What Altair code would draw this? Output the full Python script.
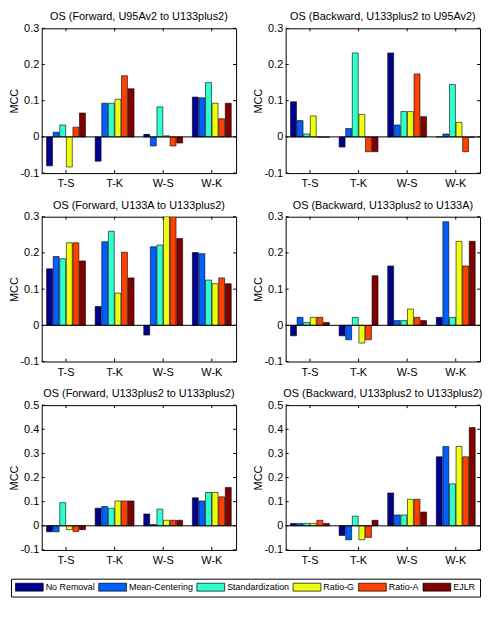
import altair as alt
import pandas as pd

FONT = "Liberation Sans"

categories = ["T-S", "T-K", "W-S", "W-K"]
methods = ["No Removal", "Mean-Centering", "Standardization", "Ratio-G", "Ratio-A", "EJLR"]
colors = ["#00008F", "#0060FF", "#30FFCF", "#EFFF10", "#FF4000", "#800000"]

titles = [
    "OS (Forward, U95Av2 to U133plus2)",
    "OS (Backward, U133plus2 to U95Av2)",
    "OS (Forward, U133A to U133plus2)",
    "OS (Backward, U133plus2 to U133A)",
    "OS (Forward, U133plus2 to U133plus2)",
    "OS (Backward, U133plus2 to U133plus2)",
]

# values per panel: one list per category (T-S, T-K, W-S, W-K), in method order
fwd_u95 = [
    [-0.080, 0.013, 0.033, -0.083, 0.027, 0.066],
    [-0.067, 0.093, 0.093, 0.104, 0.169, 0.133],
    [0.007, -0.025, 0.083, 0.003, -0.025, -0.017],
    [0.110, 0.108, 0.150, 0.093, 0.050, 0.093],
]
bwd_u95 = [
    [0.097, 0.045, 0.008, 0.058, -0.001, -0.001],
    [-0.028, 0.023, 0.232, 0.062, -0.041, -0.041],
    [0.232, 0.033, 0.070, 0.070, 0.174, 0.056],
    [0.000, 0.008, 0.145, 0.040, -0.041, -0.001],
]
fwd_u133a = [
    [0.156, 0.190, 0.184, 0.228, 0.228, 0.178],
    [0.052, 0.231, 0.260, 0.089, 0.202, 0.131],
    [-0.027, 0.217, 0.222, 0.300, 0.300, 0.240],
    [0.201, 0.198, 0.125, 0.115, 0.131, 0.115],
]
bwd_u133a = [
    [-0.029, 0.022, 0.008, 0.022, 0.022, 0.008],
    [-0.029, -0.040, 0.022, -0.049, -0.040, 0.137],
    [0.164, 0.013, 0.013, 0.045, 0.022, 0.013],
    [0.022, 0.286, 0.022, 0.232, 0.164, 0.232],
]
fwd_plus2 = [
    [-0.025, -0.025, 0.096, -0.016, -0.024, -0.016],
    [0.073, 0.080, 0.073, 0.103, 0.103, 0.103],
    [0.049, 0.005, 0.069, 0.023, 0.023, 0.023],
    [0.116, 0.103, 0.138, 0.138, 0.120, 0.159],
]
bwd_plus2 = [
    [0.010, 0.010, 0.010, 0.010, 0.023, 0.010],
    [-0.040, -0.058, 0.040, -0.058, -0.048, 0.023],
    [0.136, 0.045, 0.045, 0.110, 0.110, 0.057],
    [0.286, 0.329, 0.174, 0.329, 0.286, 0.407],
]

ticks_small = [-0.1, 0.0, 0.1, 0.2, 0.3]
ticks_large = [-0.1, 0.0, 0.1, 0.2, 0.3, 0.4, 0.5]

W, H = 196, 146
ROW_GAP, COL_GAP = 44, 50

legend = alt.Legend(
    title=None,
    orient="none",
    legendX=-31,
    legendY=3 * H + 2 * ROW_GAP + 29,
    direction="horizontal",
    columns=6,
    symbolType="M-1,-1L6,-1L6,1L-1,1Z",
    symbolSize=64,
    symbolStrokeColor="black",
    symbolStrokeWidth=0.7,
    symbolOpacity=1,
    labelOffset=22,
    labelFont=FONT,
    labelFontSize=9,
    labelColor="black",
    columnPadding=2,
    padding=4,
    strokeColor="black",
    fillColor="white",
)

label_expr = "datum.value == 0 ? '0' : (datum.value < 0 ? '-' + format(-datum.value, '.1f') : format(datum.value, '.1f'))"


def panel(title, vals, ticks):
    rows = []
    for ci, cat in enumerate(categories):
        for mi, m in enumerate(methods):
            rows.append({"cat": cat, "method": m, "value": vals[ci][mi]})
    df = pd.DataFrame(rows)
    yscale = alt.Scale(domain=[ticks[0], ticks[-1]], nice=False, zero=False)
    xscale = alt.Scale(domain=categories, paddingInner=0.2, paddingOuter=0.1)
    xaxis = alt.Axis(labelAngle=0, ticks=False, domain=False, grid=False,
                     labelFont=FONT, labelFontSize=11, labelColor="black", labelPadding=5)
    yaxis = alt.Axis(values=ticks, labelExpr=label_expr, ticks=False, domain=False,
                     grid=False, labelFont=FONT, labelFontSize=11, labelColor="black",
                     labelPadding=3, titleFont=FONT, titleFontSize=11,
                     titleFontWeight="normal", titleColor="black", titlePadding=0)

    def X(field):
        return alt.X(field, sort=categories, scale=xscale, title=None, axis=xaxis)

    def Y(field):
        return alt.Y(field, scale=yscale, title="MCC", axis=yaxis)

    bars = alt.Chart(df).mark_bar(stroke="black", strokeWidth=0.6, clip=True).encode(
        x=X("cat:N"),
        xOffset=alt.XOffset("method:N", sort=methods,
                            scale=alt.Scale(domain=methods, paddingInner=0.1, paddingOuter=0)),
        y=Y("value:Q"),
        color=alt.Color("method:N", sort=methods,
                        scale=alt.Scale(domain=methods, range=colors), legend=legend),
    )
    zero = alt.Chart(pd.DataFrame({"value": [0.0]})).mark_rule(color="black", strokeWidth=1).encode(
        y=Y("value:Q")
    )
    tdf = pd.DataFrame({"value": ticks})
    lt = alt.Chart(tdf).mark_rule(color="black", strokeWidth=1).encode(
        y=Y("value:Q"), x=alt.value(0), x2=alt.value(3))
    rt = alt.Chart(tdf).mark_rule(color="black", strokeWidth=1).encode(
        y=Y("value:Q"), x=alt.value(W), x2=alt.value(W - 3))
    cdf = pd.DataFrame({"cat": categories})
    bt = alt.Chart(cdf).mark_rule(color="black", strokeWidth=1).encode(
        x=X("cat:N"), y=alt.value(H), y2=alt.value(H - 3))
    tt = alt.Chart(cdf).mark_rule(color="black", strokeWidth=1).encode(
        x=X("cat:N"), y=alt.value(0), y2=alt.value(3))
    head = alt.Chart(pd.DataFrame({"t": [title]})).mark_text(
        font=FONT, fontSize=11, color="black", align="center", baseline="alphabetic"
    ).encode(text="t:N", x=alt.value(W / 2), y=alt.value(-8))
    return alt.layer(bars, zero, lt, rt, bt, tt, head).properties(width=W, height=H)


panels = [
    panel(titles[0], fwd_u95, ticks_small),
    panel(titles[1], bwd_u95, ticks_small),
    panel(titles[2], fwd_u133a, ticks_small),
    panel(titles[3], bwd_u133a, ticks_small),
    panel(titles[4], fwd_plus2, ticks_large),
    panel(titles[5], bwd_plus2, ticks_large),
]

chart = alt.concat(*panels, columns=2, bounds="flush",
                   spacing={"row": ROW_GAP, "column": COL_GAP}).resolve_scale(
    y="independent", x="independent"
).properties(padding=0, background="white").configure_view(
    stroke="black", strokeWidth=1
)

chart.save("out.html", embed_options={"renderer": "svg", "actions": False})
